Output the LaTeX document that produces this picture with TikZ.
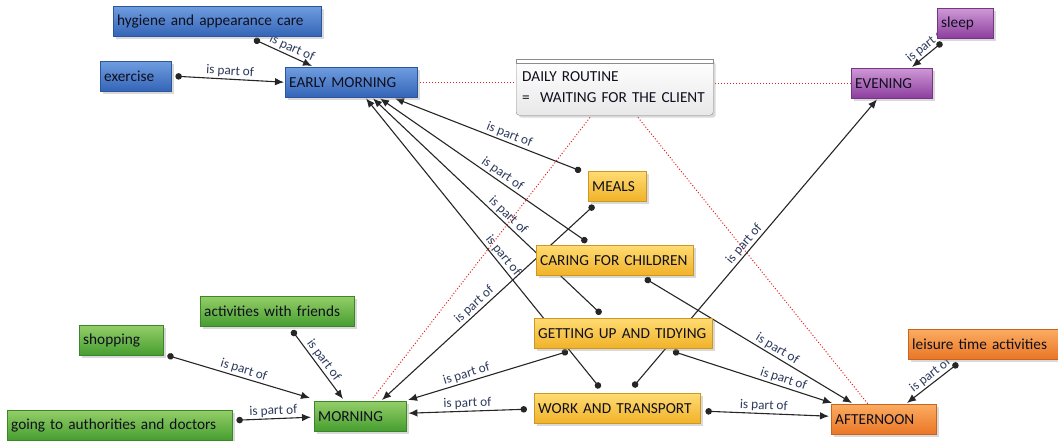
\documentclass[tikz,border=0pt]{standalone}
\usepackage{fontspec}
\setmainfont{Carlito}
\usepackage{tikz}
\usetikzlibrary{arrows.meta,calc,shadows,backgrounds}

\definecolor{bluetop}{RGB}{112,157,224}
\definecolor{bluebot}{RGB}{52,101,183}
\definecolor{purptop}{RGB}{207,152,214}
\definecolor{purpbot}{RGB}{140,62,158}
\definecolor{yeltop}{RGB}{255,220,115}
\definecolor{yelbot}{RGB}{240,178,40}
\definecolor{orgtop}{RGB}{251,172,98}
\definecolor{orgbot}{RGB}{234,118,38}
\definecolor{grntop}{RGB}{148,206,104}
\definecolor{grnbot}{RGB}{70,158,48}
\definecolor{lblcol}{RGB}{45,58,92}
\definecolor{txtcol}{RGB}{15,15,30}
\definecolor{reddot}{RGB}{230,30,30}

\newcommand{\boxfont}{\fontsize{15.3}{21}\selectfont}
\newcommand{\linkfont}{\fontsize{13.3}{15}\selectfont}

\tikzset{
  concept/.style={rectangle, anchor=north west, minimum height=30pt,
    inner xsep=4pt, inner ysep=0pt, align=left, text=txtcol, font=\boxfont,
    draw=#1bot!85!black, line width=0.4pt, top color=#1top, bottom color=#1bot,
    drop shadow={shadow xshift=2.5pt, shadow yshift=-2.5pt, opacity=0.3}},
  ispart/.style={draw=black!85, line width=1.1pt,
    arrows={Circle[length=6.5pt]-Latex[length=9pt,width=7.5pt]}},
  lbl/.style={font=\linkfont, text=lblcol, sloped, above, inner sep=1.5pt},
  relation/.style={draw=reddot, dotted, line width=1pt},
}

\begin{document}
\begin{tikzpicture}[x=1pt,y=-1pt]
  \useasboundingbox (0,0) rectangle (1058,440);

  \node[concept=blue, text width=200pt] (hygiene) at (113,6) {hygiene and appearance care};
  \node[concept=blue, text width=63pt] (exercise) at (100,61) {exercise};
  \node[concept=blue, text width=124pt] (early) at (285,67) {EARLY MORNING};

  \node[anchor=north west, rectangle, rounded corners=3pt, draw=black!45,
        top color=white, bottom color=black!9, minimum height=56pt,
        text width=185pt, inner xsep=6pt, inner ysep=0pt, align=left,
        font=\boxfont, text=txtcol,
        drop shadow={shadow xshift=2.5pt, shadow yshift=-2.5pt, opacity=0.3}]
        (routine) at (516,59) {DAILY ROUTINE\\=\ \ WAITING FOR THE CLIENT};
  \draw[draw=black!45, fill=white] (routine.north west) rectangle ($(routine.north east)+(0,4)$);

  \node[concept=purp, text width=73pt] (evening) at (851,68) {EVENING};
  \node[concept=purp, text width=48pt] (sleep) at (937,8) {sleep};

  \node[concept=yel, text width=50pt] (meals) at (588,171) {MEALS};
  \node[concept=yel, text width=149pt] (caring) at (536,245) {CARING FOR CHILDREN};
  \node[concept=yel, text width=170pt] (getting) at (534,318) {GETTING UP AND TIDYING};
  \node[concept=yel, text width=158pt] (work) at (534,393) {WORK AND TRANSPORT};

  \node[concept=org, text width=97pt] (afternoon) at (831,404) {AFTERNOON};
  \node[concept=org, text width=142pt] (leisure) at (908,329) {leisure time activities};

  \node[concept=grn, text width=146pt] (friends) at (200,296) {activities with friends};
  \node[concept=grn, text width=76pt] (shopping) at (79,325) {shopping};
  \node[concept=grn, text width=217pt] (authorities) at (7,410) {going to authorities and doctors};
  \node[concept=grn, text width=84pt] (morning) at (314,401) {MORNING};

  \begin{scope}[on background layer]
    \draw[relation] (early.east) -- (early.east -| routine.west);
    \draw[relation] (evening.west) -- (evening.west -| routine.east);
    \draw[relation] ($(routine.south west)+(74,2)$) -- ($(morning.north west)+(59,-3)$);
    \draw[relation] ($(routine.south west)+(122,2)$) -- ($(afternoon.north west)+(37,0)$);

    \draw[ispart] ($(hygiene.south west)+(141,3)$) -- node[lbl,pos=0.6] (l1) {is part of} ($(early.north west)+(27,-1)$);
    \draw[ispart] ($(exercise.east)+(4,0)$) -- node[lbl] (l2) {is part of} ($(early.west)+(-1,0)$);
    \draw[ispart] ($(meals.north west)+(-7,0)$) -- node[lbl,pos=0.4] (l3) {is part of} ($(early.south west)+(110,1)$);
    \draw[ispart] ($(caring.north west)+(51,-3)$) -- node[lbl,pos=0.43] (l4) {is part of} ($(early.south west)+(95,1)$);
    \draw[ispart] ($(getting.north west)+(67,-4)$) -- node[lbl,pos=0.43] (l5) {is part of} ($(early.south west)+(88,1)$);
    \draw[ispart] ($(work.north west)+(66,-5)$) -- node[lbl,pos=0.44] (l6) {is part of} ($(early.south west)+(81,1)$);

    \draw[ispart] ($(meals.south west)+(6,4)$) -- node[lbl,pos=0.54] (l7) {is part of} ($(morning.north west)+(68,-1)$);
    \draw[ispart] ($(getting.south west)+(34,3)$) -- node[lbl,pos=0.62] (l8) {is part of} ($(morning.north west)+(94,-1)$);
    \draw[ispart] ($(work.west)+(-7,1)$) -- node[lbl] (l9) {is part of} ($(morning.east)+(2,-3)$);
    \draw[ispart] ($(work.north west)+(99,-6)$) -- node[lbl,pos=0.48] (l10) {is part of} ($(evening.south west)+(26,1)$);

    \draw[ispart] ($(caring.south west)+(109,3)$) -- node[lbl,pos=0.62] (l11) {is part of} ($(afternoon.north west)+(21,-1)$);
    \draw[ispart] ($(getting.south west)+(139,3)$) -- node[lbl,pos=0.68] (l12) {is part of} ($(afternoon.north west)+(1,-1)$);
    \draw[ispart] ($(work.east)+(5,3)$) -- node[lbl,pos=0.47] (l13) {is part of} ($(afternoon.west)+(-2,-3)$);
    \draw[ispart] ($(leisure.south west)+(50,4)$) -- node[lbl,pos=0.45] (l14) {is part of} ($(afternoon.north west)+(76,-1)$);
    \draw[ispart] ($(sleep.south west)+(5,4)$) -- node[lbl,pos=0.35] (l15) {is part of} ($(evening.north west)+(61,-1)$);

    \draw[ispart] ($(shopping.south east)+(4,0)$) -- node[lbl,pos=0.52] (l16) {is part of} ($(morning.north west)+(-4,-3)$);
    \draw[ispart] ($(friends.south west)+(92,4)$) -- node[lbl] (l17) {is part of} ($(morning.north west)+(29,-2)$);
    \draw[ispart] ($(authorities.east)+(4,-5)$) -- node[lbl] (l18) {is part of} ($(morning.west)+(-3,1)$);
  \end{scope}
\end{tikzpicture}
\end{document}
